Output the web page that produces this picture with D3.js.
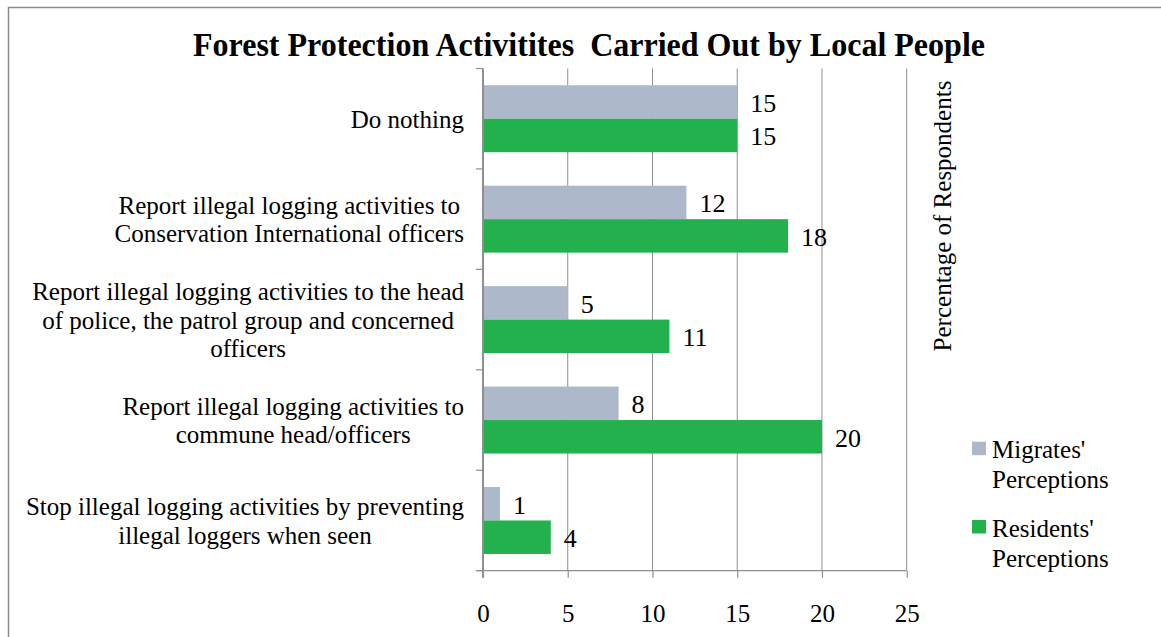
<!DOCTYPE html>
<html>
<head>
<meta charset="utf-8">
<script src="https://cdn.jsdelivr.net/npm/d3@7"></script>
<style>
  html, body { margin: 0; padding: 0; background: #fff; }
  svg { display: block; }
  text { font-family: "Liberation Serif", "Times New Roman", serif; fill: #000; }
</style>
</head>
<body>
<svg id="chart" width="1161" height="637"></svg>
<script>
// ---- data ----
const categories = [
  "Do nothing",
  "Report illegal logging activities to\nConservation International officers",
  "Report illegal logging activities to the head\nof police, the patrol group and concerned\nofficers",
  "Report illegal logging activities to\ncommune head/officers",
  "Stop illegal logging activities by preventing\nillegal loggers when seen"
];
const seriesNames = ["Migrates'\nPerceptions", "Residents'\nPerceptions"];
const migrates = [15, 12, 5, 8, 1];
const residents = [15, 18, 11, 20, 4];
const xTicks = [0, 5, 10, 15, 20, 25];
const titleText = "Forest Protection Activitites  Carried Out by Local People";
const axisTitle = "Percentage of Respondents";
const colors = ["#ADB9CA", "#22B14C"];

// ---- layout ----
const svg = d3.select("#chart");
const plot = { left: 483, right: 906.7, top: 68.5, bottom: 570.7 };
const gridColor = "#8f8f8f";

// outer border
svg.append("rect")
  .attr("x", 8.5).attr("y", 7.5).attr("width", 1200).attr("height", 700)
  .attr("fill", "none").attr("stroke", "#8c8c8c").attr("stroke-width", 1.5);

const x = d3.scaleLinear().domain([0, 25]).range([plot.left, plot.right]);
const y = d3.scaleBand().domain(categories).range([plot.top, plot.bottom]).paddingInner(0).paddingOuter(0);
const bw = y.bandwidth();
const sub = d3.scaleBand().domain([0, 1]).range([bw / 6, bw * 5 / 6]);

// gridlines
svg.append("g").selectAll("line").data(xTicks.filter(d => d > 0)).join("line")
  .attr("x1", d => x(d)).attr("x2", d => x(d))
  .attr("y1", plot.top).attr("y2", plot.bottom)
  .attr("stroke", gridColor).attr("stroke-width", 1);

// bars
const series = [migrates, residents];
series.forEach((vals, si) => {
  svg.append("g").selectAll("rect").data(vals).join("rect")
    .attr("x", x(0))
    .attr("y", (d, i) => y(categories[i]) + sub(si))
    .attr("width", d => x(d) - x(0))
    .attr("height", sub.bandwidth())
    .attr("fill", colors[si]);
  svg.append("g").selectAll("text").data(vals).join("text")
    .attr("x", d => x(d) + 13)
    .attr("y", (d, i) => y(categories[i]) + sub(si) + sub.bandwidth() / 2 + 10)
    .attr("font-size", 26)
    .text(d => d);
});

// x axis (bottom)
const xAxis = svg.append("g").attr("transform", `translate(0,${plot.bottom})`)
  .call(d3.axisBottom(x).tickValues(xTicks).tickSize(7).tickSizeOuter(0).tickPadding(0));
xAxis.select(".domain").remove();
xAxis.selectAll(".tick line").attr("stroke", gridColor).attr("stroke-width", 1.2);
xAxis.selectAll(".tick text").attr("font-size", 25).attr("font-family", '"Liberation Serif", "Times New Roman", serif')
  .attr("y", 51.5).attr("dy", null).attr("fill", "#000");
svg.append("line").attr("x1", plot.left - 7).attr("x2", plot.right)
  .attr("y1", plot.bottom).attr("y2", plot.bottom)
  .attr("stroke", gridColor).attr("stroke-width", 1.2);

// y axis (left)
svg.append("line").attr("x1", plot.left).attr("x2", plot.left)
  .attr("y1", plot.top).attr("y2", plot.bottom + 7)
  .attr("stroke", gridColor).attr("stroke-width", 2);
const bounds = categories.map(c => y(c)).concat([plot.bottom]);
svg.append("g").selectAll("line").data(bounds).join("line")
  .attr("x1", plot.left - 7).attr("x2", plot.left)
  .attr("y1", d => d).attr("y2", d => d)
  .attr("stroke", gridColor).attr("stroke-width", 1.2);

// category labels: lines centred on each other, block right-aligned
const labelRight = 464, lineH = 28.5;
categories.forEach(c => {
  const lines = c.split("\n");
  const cy = y(c) + bw / 2;
  const g = svg.append("g");
  const texts = lines.map((ln, i) => g.append("text")
    .attr("font-size", 25).attr("text-anchor", "middle")
    .attr("y", cy + 9 + (i - (lines.length - 1) / 2) * lineH)
    .text(ln));
  const maxW = d3.max(texts, t => t.node().getComputedTextLength());
  texts.forEach(t => t.attr("x", labelRight - maxW / 2));
});

// title
svg.append("text")
  .attr("x", 193).attr("y", 56)
  .attr("font-size", 33).attr("font-weight", "bold")
  .attr("textLength", 792).attr("lengthAdjust", "spacingAndGlyphs")
  .style("white-space", "pre")
  .text(titleText);

// axis title (rotated)
svg.append("text")
  .attr("transform", "translate(951,216) rotate(-90)")
  .attr("text-anchor", "middle").attr("font-size", 25)
  .text(axisTitle);

// legend
const legY = [441.7, 520];
seriesNames.forEach((name, i) => {
  svg.append("rect").attr("x", 972).attr("y", legY[i]).attr("width", 14).attr("height", 13.5)
    .attr("fill", colors[i]);
  name.split("\n").forEach((ln, j) => {
    svg.append("text").attr("x", 992).attr("y", legY[i] + 16.5 + j * 30)
      .attr("font-size", 25).text(ln);
  });
});
</script>
</body>
</html>
